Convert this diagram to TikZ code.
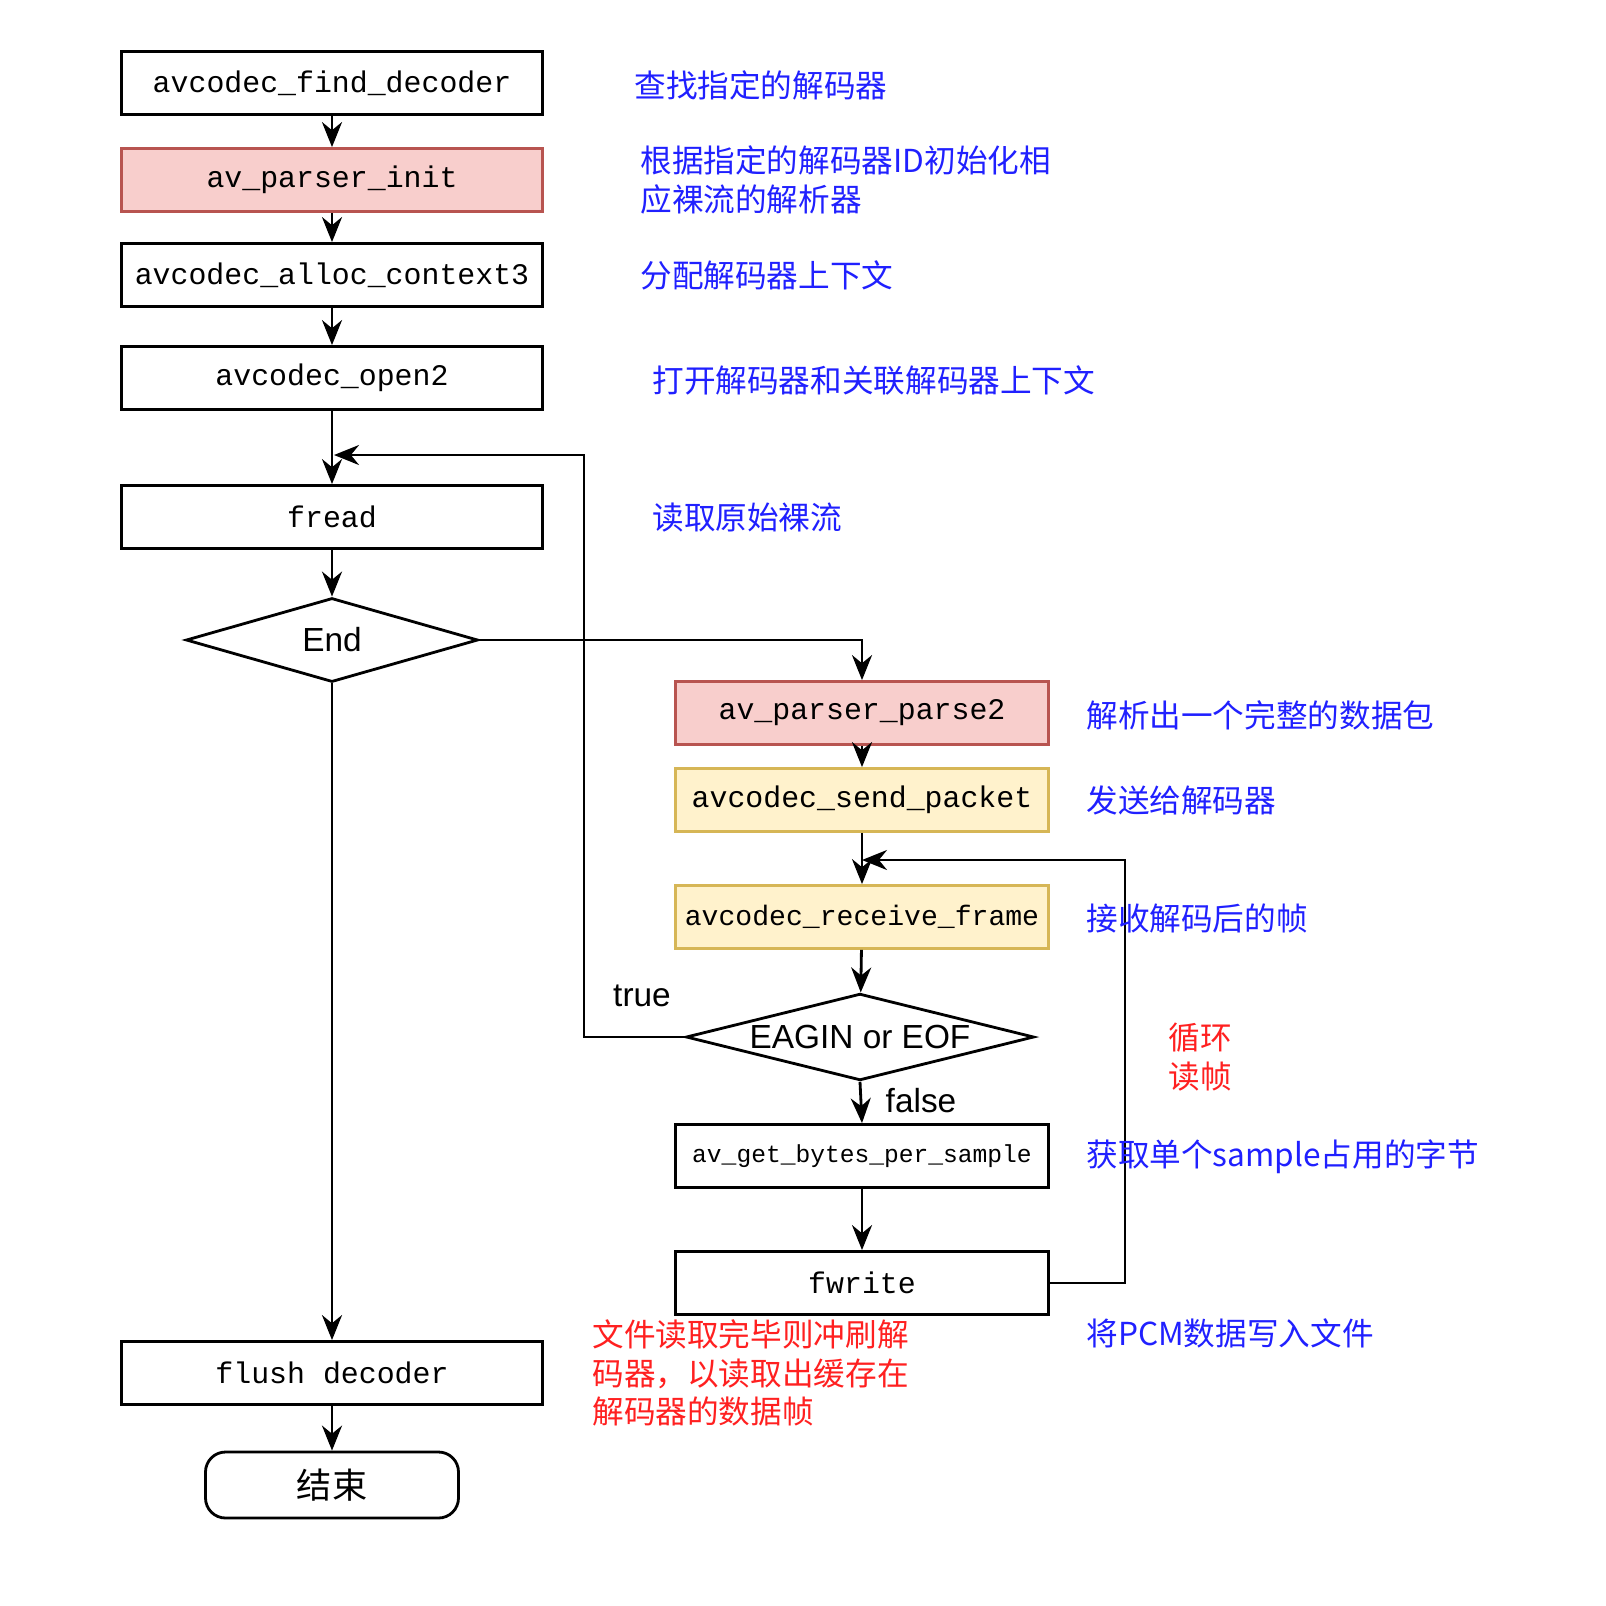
\documentclass[tikz,border=0pt]{standalone}
\usepackage{fontspec}
\setmainfont{Liberation Sans}
\setmonofont{Liberation Mono}
\newfontfamily\cjk{Noto Sans CJK SC}
\usetikzlibrary{arrows.meta,shapes.geometric}
\definecolor{pinkfill}{HTML}{F8CECC}
\definecolor{pinkline}{HTML}{B85450}
\definecolor{yelfill}{HTML}{FFF2CC}
\definecolor{yelline}{HTML}{D6B656}
\definecolor{noteblue}{HTML}{2020FF}
\definecolor{notered}{HTML}{FF2020}
\tikzset{
  fn/.style={draw,line width=0.8pt,minimum width=42.1mm,minimum height=6.3mm,inner sep=0pt,font=\ttfamily\fontsize{8.5}{10}\selectfont},
  fnr/.style={fn,minimum width=37.3mm},
  hot/.style={fill=pinkfill,draw=pinkline},
  warm/.style={fill=yelfill,draw=yelline},
  test/.style={draw,line width=0.8pt,diamond,aspect=3.5,inner sep=0pt,font=\fontsize{9.5}{11}\selectfont},
  note/.style={anchor=west,align=left,text=noteblue,font=\cjk\fontsize{9}{11}\selectfont},
  flow/.style={line width=0.8pt,-{Stealth[length=2.5mm,width=2mm]}}
}
\begin{document}
\begin{tikzpicture}[x=0.1mm,y=-0.1mm]
\useasboundingbox (0,0) rectangle (1606,1606);
% left column
\node[fn] (find) at (332,83) {avcodec\_find\_decoder};
\node[fn,hot] (init) at (332,180) {av\_parser\_init};
\node[fn] (alloc) at (332,275) {avcodec\_alloc\_context3};
\node[fn] (open) at (332,378) {avcodec\_open2};
\node[fn] (fread) at (332,517) {fread};
\node[test,minimum width=29.2mm,minimum height=8.4mm] (end) at (332,640) {End};
\node[fn] (flush) at (332,1373) {flush decoder};
\node[draw,line width=0.8pt,rounded corners=2mm,minimum width=25.3mm,minimum height=6.6mm,font=\cjk\fontsize{10}{12}\selectfont] (stop) at (332,1485) {结束};
% right column
\node[fnr,hot] (parse) at (862,713) {av\_parser\_parse2};
\node[fnr,warm] (send) at (862,800) {avcodec\_send\_packet};
\node[fnr,warm,font=\ttfamily\fontsize{8}{10}\selectfont] (recv) at (862,917) {avcodec\_receive\_frame};
\node[test,minimum width=34.8mm,minimum height=8.4mm] (again) at (860,1037) {EAGIN or EOF};
\node[fnr,font=\ttfamily\fontsize{7}{9}\selectfont] (bytes) at (862,1156) {av\_get\_bytes\_per\_sample};
\node[fnr] (write) at (862,1283) {fwrite};
\coordinate (loopa) at (334,455);
\coordinate (loopb) at (862,860);
% connectors
\draw[flow] (find) -- (init);
\draw[flow] (init) -- (alloc);
\draw[flow] (alloc) -- (open);
\draw[flow] (open) -- (fread);
\draw[flow] (fread) -- (end);
\draw[flow] (end.east) -| (parse.north);
\draw[flow] (end.south) -- (flush.north);
\draw[flow] (flush) -- (stop);
\draw[flow] (parse) -- (send);
\draw[flow] (send) -- (recv);
\draw[flow] (recv) -- (again);
\draw[flow] (again.south) -- (bytes.north);
\draw[flow] (bytes) -- (write);
\draw[flow] (again.west) -- (584,1037) |- (loopa);
\draw[flow] (write.east) -- (1125,1283) |- (loopb);
\node[font=\fontsize{9.5}{11}\selectfont] (tl) at (642,996) {true};
\node[font=\fontsize{9.5}{11}\selectfont] (fl) at (921,1101) {false};
% notes
\node[note] (n1) at (622,85) {查找指定的解码器};
\node[note] (n2) at (628,180) {根据指定的解码器ID初始化相\\应裸流的解析器};
\node[note] (n3) at (628,275) {分配解码器上下文};
\node[note] (n4) at (640,380) {打开解码器和关联解码器上下文};
\node[note] (n5) at (640,518) {读取原始裸流};
\node[note] (n6) at (1074,715) {解析出一个完整的数据包};
\node[note] (n7) at (1074,800) {发送给解码器};
\node[note] (n8) at (1074,918) {接收解码后的帧};
\node[note] (n9) at (1074,1157) {获取单个sample占用的字节};
\node[note] (n10) at (1074,1333) {将PCM数据写入文件};
\node[note,text=notered] (n11) at (1156,1057) {循环\\读帧};
\node[note,text=notered] (n12) at (580,1373) {文件读取完毕则冲刷解\\码器，以读取出缓存在\\解码器的数据帧};
\end{tikzpicture}
\end{document}
